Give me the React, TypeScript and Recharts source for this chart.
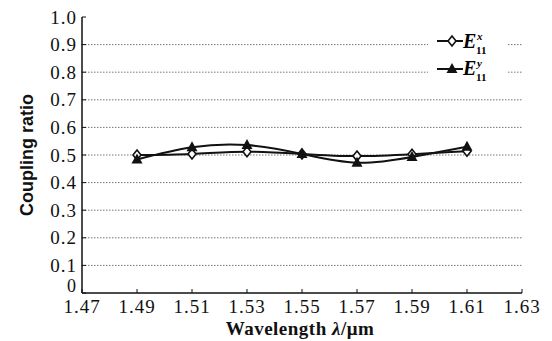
import { LineChart, Line, XAxis, YAxis, ReferenceLine } from 'recharts';

const wavelengths = [1.49, 1.51, 1.53, 1.55, 1.57, 1.59, 1.61];
const ex11 = [0.5, 0.504, 0.512, 0.504, 0.496, 0.503, 0.514];
const ey11 = [0.484, 0.528, 0.536, 0.504, 0.472, 0.493, 0.53];
const xTicks = [1.47, 1.49, 1.51, 1.53, 1.55, 1.57, 1.59, 1.61, 1.63];
const yTicks = [0, 0.1, 0.2, 0.3, 0.4, 0.5, 0.6, 0.7, 0.8, 0.9, 1.0];
const gridValues = [0.1, 0.2, 0.3, 0.4, 0.5, 0.6, 0.7, 0.8, 0.9];

const data = wavelengths.map((w, i) => ({ w, ex: ex11[i], ey: ey11[i] }));

const SERIF = '"Liberation Serif", "Times New Roman", serif';
const tickStyle = { fontSize: 19, fill: '#111', fontFamily: SERIF, letterSpacing: 1 };

function Diamond(props: any) {
  const { cx, cy } = props;
  if (cx == null || cy == null) return null;
  return (
    <path
      d={`M${cx},${cy - 5} L${cx + 4},${cy} L${cx},${cy + 5} L${cx - 4},${cy} Z`}
      fill="#fff"
      stroke="#111"
      strokeWidth={1.6}
    />
  );
}

function Triangle(props: any) {
  const { cx, cy } = props;
  if (cx == null || cy == null) return null;
  return <path d={`M${cx},${cy - 6} L${cx + 5.5},${cy + 4} L${cx - 5.5},${cy + 4} Z`} fill="#111" />;
}

// y tick: lift the "0" a little so it sits on the axis corner like the original
function YTick(props: any) {
  const { x, y, payload } = props;
  const v = payload.value as number;
  return (
    <text
      x={x}
      y={v === 0 ? y - 7 : y}
      textAnchor="end"
      dominantBaseline="central"
      style={v === 0 ? { ...tickStyle, fontSize: 18 } : tickStyle}
    >
      {v === 0 ? '0' : v.toFixed(1)}
    </text>
  );
}

function LegendBox() {
  const label = (sup: string) => (
    <span style={{ fontFamily: SERIF, fontStyle: 'italic', fontWeight: 'bold', fontSize: 20, position: 'relative', lineHeight: '20px' }}>
      E
      <span style={{ position: 'absolute', left: 14, top: -5, fontSize: 11 }}>{sup}</span>
      <span style={{ position: 'absolute', left: 13, top: 9, fontSize: 11, fontStyle: 'normal' }}>11</span>
    </span>
  );
  return (
    <div style={{ position: 'absolute', left: 420, top: 22, background: '#fff', width: 80, height: 50 }}>
      <div style={{ position: 'absolute', left: 9, top: 1, display: 'flex', alignItems: 'center' }}>
        <svg width={26} height={14}>
          <line x1={0} y1={7} x2={26} y2={7} stroke="#111" strokeWidth={2} />
          <Diamond cx={15} cy={7} />
        </svg>
        {label('x')}
      </div>
      <div style={{ position: 'absolute', left: 9, top: 28, display: 'flex', alignItems: 'center' }}>
        <svg width={26} height={14}>
          <line x1={0} y1={8} x2={26} y2={8} stroke="#111" strokeWidth={2} />
          <Triangle cx={15} cy={8} />
        </svg>
        {label('y')}
      </div>
    </div>
  );
}

export default function App() {
  return (
    <div style={{ position: 'relative', width: 544, height: 333, background: '#fff' }}>
      <LineChart width={544} height={333} data={data} margin={{ top: 9, right: 30, left: 24, bottom: 18 }}>
        {gridValues.map((v) => (
          <ReferenceLine key={v} y={v} stroke="#777" strokeDasharray="1.5 1.5" strokeWidth={1} />
        ))}
        <XAxis
          dataKey="w"
          type="number"
          domain={[1.47, 1.63]}
          ticks={xTicks}
          tickFormatter={(v) => v.toFixed(2)}
          tick={tickStyle}
          tickSize={-4}
          tickMargin={11}
          height={30}
          stroke="#111"
          axisLine={{ stroke: '#111', strokeWidth: 1.5 }}
          interval={0}
        />
        <YAxis
          type="number"
          domain={[0, 1]}
          ticks={yTicks}
          tick={<YTick />}
          tickSize={-4}
          tickMargin={9}
          width={50}
          stroke="#111"
          axisLine={{ stroke: '#111', strokeWidth: 1.5 }}
          interval={0}
        />
        <Line
          type="natural"
          dataKey="ex"
          stroke="#111"
          strokeWidth={2}
          dot={<Diamond />}
          isAnimationActive={false}
        />
        <Line
          type="natural"
          dataKey="ey"
          stroke="#111"
          strokeWidth={2}
          dot={<Triangle />}
          isAnimationActive={false}
        />
      </LineChart>
      <LegendBox />
      <div
        style={{
          position: 'absolute',
          left: 19,
          top: 147,
          transform: 'translate(-50%, -50%) rotate(-90deg)',
          fontFamily: '"Liberation Sans", Arial, sans-serif',
          fontWeight: 'bold',
          fontSize: 18,
          whiteSpace: 'nowrap',
          color: '#111',
        }}
      >
        Coupling ratio
      </div>
      <div
        style={{
          position: 'absolute',
          left: 292,
          top: 321,
          transform: 'translate(-50%, -50%)',
          fontFamily: SERIF,
          fontWeight: 'bold',
          fontSize: 19,
          whiteSpace: 'nowrap',
          color: '#111',
          letterSpacing: 0.5,
        }}
      >
        Wavelength <i>λ</i>/μm
      </div>
    </div>
  );
}
